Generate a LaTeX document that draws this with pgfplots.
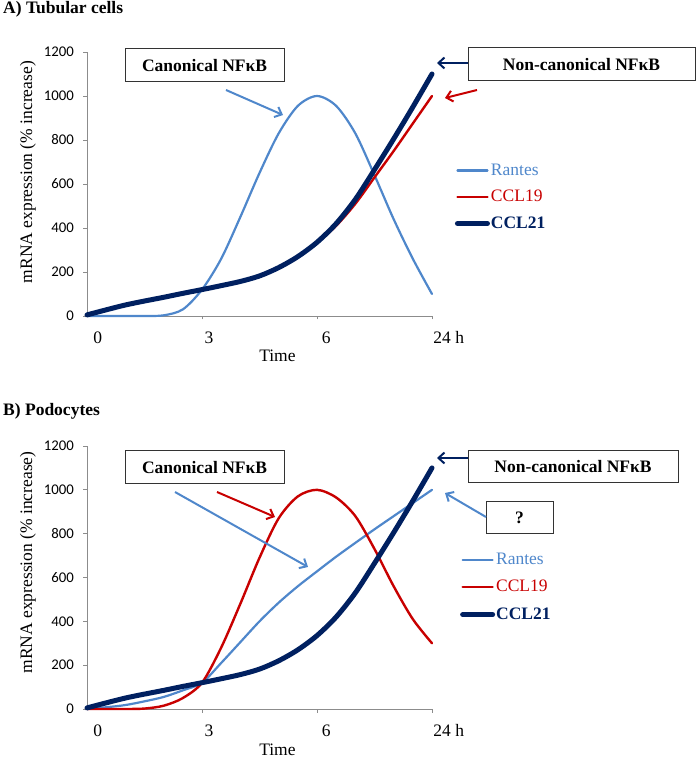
\documentclass[border=0pt]{standalone}
\usepackage{pgfplots}
\pgfplotsset{compat=1.18}
\usepackage{fontspec}
\setmainfont{Liberation Serif}
\newfontfamily\carlito{Carlito}
\usetikzlibrary{arrows.meta}
\definecolor{rantes}{RGB}{79,135,203}
\definecolor{ccl19}{RGB}{200,0,0}
\definecolor{ccl21}{RGB}{0,32,96}
\definecolor{axisgray}{RGB}{140,140,140}
\newcommand\ft{\fontsize{17.5}{20}\selectfont}

\pgfplotstableread{
x    rantes ccl19 ccl21
0    0      5     5
0.5  0      27    28
1    0      48    50
1.5  0      66    68
2    3      83    85
2.5  30     101   103
3    120    118   120
3.5  260    136   138
4    450    155   157
4.5  650    180   182
5    830    218   220
5.5  955    268   270
6    1000   333   335
6.5  955    410   420
7    830    510   530
7.5  640    630   665
8    440    750   805
8.5  260    875   950
9    100    1000  1100
}\tubular

\pgfplotstableread{
x    rantes ccl19 ccl21
0    0      0     5
0.5  8      0     28
1    18     0     50
1.5  35     2     68
2    55     15    85
2.5  85     50    103
3    120    120   120
3.5  210    280   138
4    305    480   157
4.5  400    690   182
5    485    870   220
5.5  560    970   270
6    628    1000  335
6.5  695    965   420
7    758    880   530
7.5  820    730   665
8    880    560   805
8.5  940    410   950
9    1000   300   1100
}\podo

\pgfplotsset{
  panel/.style={
    scale only axis, width=345pt,
    xmin=0, xmax=9, ymin=0, ymax=1200,
    axis lines=left,
    axis line style={draw=axisgray, line width=0.8pt, -},
    tick align=outside,
    major tick length=3.5pt,
    ytick={0,200,400,600,800,1000,1200},
    ytick style={draw=axisgray, line width=0.8pt},
    xtick={0.28,3.18,6.24,9},
    xticklabels={0,3,6,\hspace*{33.4pt}24 h},
    xtick style={draw=none},
    extra x ticks={3,6,9},
    extra x tick labels={},
    extra x tick style={xtick style={draw=axisgray, line width=0.8pt}},
    xticklabel style={font=\ft, anchor=base, yshift=-24pt},
    yticklabel style={font=\carlito\fontsize{14.8}{16}\selectfont, anchor=east, xshift=-6pt},
    /pgf/number format/assume math mode=true,
    /pgf/number format/1000 sep={},
    clip=false,
    every axis x label/.style={at={(axis description cs:0.552,-0.174)}, anchor=base, font=\ft},
    legend style={draw=none, fill=none, font=\ft, inner sep=0pt,
      nodes={inner sep=1pt, text height=12pt, text depth=3pt}},
    legend cell align=left,
    legend image code/.code={\draw[#1, line cap=round] (0pt,0pt) -- (30pt,0pt);},
    every axis plot/.append style={smooth, line cap=round, line join=round},
  }
}

\begin{document}
\begin{tikzpicture}[x=1pt,y=1pt]
\path[use as bounding box] (0pt,0pt) rectangle (697pt,758pt);

% Panel A
\begin{axis}[panel, at={(87pt,442pt)}, anchor=south west, height=264pt,
  xlabel={Time},
  ylabel={mRNA expression (\% increase)},
  every axis y label/.style={at={(axis description cs:-0.171,0.545)}, rotate=90, anchor=center, font=\ft},
  legend style={at={(axis description cs:1.066,0.584)}, anchor=north west, row sep=9.5pt}]
\addplot[rantes, line width=2.2pt] table[x=x, y=rantes] {\tubular};
\addlegendentry{\textcolor{rantes}{Rantes}}
\addplot[ccl19, line width=2.4pt] table[x=x, y=ccl19] {\tubular};
\addlegendentry{\textcolor{ccl19}{CCL19}}
\addplot[ccl21, line width=5pt] table[x=x, y=ccl21] {\tubular};
\addlegendentry{\textcolor{ccl21}{\textbf{CCL21}}}
\end{axis}

% Panel B
\begin{axis}[panel, at={(87pt,49pt)}, anchor=south west, height=263pt,
  xlabel={Time},
  ylabel={mRNA expression (\% increase)},
  every axis x label/.style={at={(axis description cs:0.552,-0.175)}, anchor=base, font=\ft},
  every axis y label/.style={at={(axis description cs:-0.171,0.557)}, rotate=90, anchor=center, font=\ft},
  legend style={at={(axis description cs:1.081,0.601)}, anchor=north west, row sep=10.5pt}]
\addplot[rantes, line width=2.2pt] table[x=x, y=rantes] {\podo};
\addlegendentry{\textcolor{rantes}{Rantes}}
\addplot[ccl19, line width=2.4pt] table[x=x, y=ccl19] {\podo};
\addlegendentry{\textcolor{ccl19}{CCL19}}
\addplot[ccl21, line width=5pt] table[x=x, y=ccl21] {\podo};
\addlegendentry{\textcolor{ccl21}{\textbf{CCL21}}}
\end{axis}

% Titles
\node[anchor=base west, font=\ft\bfseries, inner sep=0pt] at (3pt,744pt) {A) Tubular cells};
\node[anchor=base west, font=\ft\bfseries, inner sep=0pt] at (3pt,342pt) {B) Podocytes};

% Annotations panel A
\tikzset{box/.style={draw=black!80, line width=1pt, fill=white, font=\ft\bfseries, inner sep=0pt, minimum height=33pt},
  arr/.style={line width=2pt, -{Straight Barb[length=6pt, width=11pt, line width=2pt]}}}
\node[box, minimum width=159pt] at (204.5pt,692.5pt) {Canonical NF\char"03BA B};
\draw[arr, rantes] (226pt,668pt) -- (283pt,643pt);
\node[box, minimum width=227pt] at (581.5pt,693.5pt) {Non-canonical NF\char"03BA B};
\draw[arr, ccl21] (468pt,695pt) -- (437pt,695pt);
\draw[arr, ccl19] (477pt,668pt) -- (445pt,660pt);

% Annotations panel B
\node[box, minimum width=159pt] at (204.5pt,290.5pt) {Canonical NF\char"03BA B};
\draw[arr, ccl19] (217pt,266pt) -- (275pt,241pt);
\draw[arr, rantes] (175pt,266pt) -- (308pt,191pt);
\node[box, minimum width=210pt, minimum height=32pt] at (573pt,291pt) {Non-canonical NF\char"03BA B};
\draw[arr, ccl21] (468pt,300pt) -- (437pt,300pt);
\node[box, minimum width=67pt, minimum height=32pt] at (519.5pt,240pt) {?};
\draw[arr, rantes] (486pt,241pt) -- (445pt,265pt);
\end{tikzpicture}
\end{document}
